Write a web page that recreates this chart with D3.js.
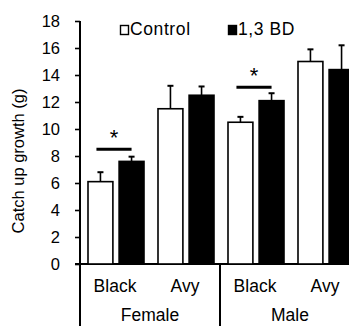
<!DOCTYPE html>
<html><head><meta charset="utf-8">
<script src="https://cdn.jsdelivr.net/npm/d3@7"></script>
<style>body{margin:0;background:#fff}svg{display:block}text{font-family:Arial,"Liberation Sans",sans-serif;fill:#000}</style>
</head><body>
<svg id="c" width="349" height="326"></svg>
<script>
const categories = ["Black", "Avy", "Black", "Avy"];
const groups = ["Female", "Male"];
const seriesNames = ["Control", "1,3 BD"];
const controlValues = [6.1, 11.5, 10.5, 15.0];
const controlErrors = [0.7, 1.7, 0.4, 0.9];
const bdValues = [7.6, 12.5, 12.1, 14.4];
const bdErrors = [0.35, 0.65, 0.55, 1.8];
const yTicks = [0, 2, 4, 6, 8, 10, 12, 14, 16, 18];
const sigCategoryIndex = [0, 2];
const sigLevel = [8.5, 13.1];

const svg = d3.select("#c");
const y = d3.scaleLinear().domain([0, 18]).range([264, 21]);
const x = d3.scaleBand().domain(d3.range(categories.length)).range([80, 360]).paddingInner(0).paddingOuter(0);
const sub = d3.scaleBand().domain([0, 1]).range([8, 64]).paddingInner(0.2);

// y axis
const yAxis = d3.axisLeft(y).tickValues(yTicks).tickSize(5).tickPadding(15).tickFormat(d3.format("d"));
const ga = svg.append("g").attr("transform", "translate(80,0)").call(yAxis);
ga.select(".domain").remove();
ga.selectAll(".tick line").attr("stroke", "#000").attr("stroke-width", 1.6);
ga.selectAll(".tick text").attr("font-size", 16.5).attr("font-family", "Arial, 'Liberation Sans', sans-serif");
svg.append("line").attr("x1", 80).attr("x2", 80).attr("y1", y(18)).attr("y2", 326).attr("stroke", "#000").attr("stroke-width", 2);
svg.append("line").attr("x1", 75).attr("x2", 349).attr("y1", y(0)).attr("y2", y(0)).attr("stroke", "#000").attr("stroke-width", 2);
// group separator
svg.append("line").attr("x1", x(2)).attr("x2", x(2)).attr("y1", y(0)).attr("y2", 326).attr("stroke", "#000").attr("stroke-width", 2);

// y label
svg.append("text").attr("transform", "translate(24,161) rotate(-90)").attr("text-anchor", "middle")
  .attr("font-size", 16.5).text("Catch up growth (g)");

const series = [
  {vals: controlValues, errs: controlErrors, fill: "#fff"},
  {vals: bdValues, errs: bdErrors, fill: "#000"}
];
series.forEach((s, si) => {
  const g = svg.append("g");
  g.selectAll("line.err").data(s.vals).enter().append("line")
    .attr("x1", (d, i) => x(i) + sub(si) + sub.bandwidth() / 2)
    .attr("x2", (d, i) => x(i) + sub(si) + sub.bandwidth() / 2)
    .attr("y1", d => y(d)).attr("y2", (d, i) => y(d + s.errs[i]))
    .attr("stroke", "#000").attr("stroke-width", 1.6);
  g.selectAll("line.cap").data(s.vals).enter().append("line")
    .attr("x1", (d, i) => x(i) + sub(si) + sub.bandwidth() / 2 - 3)
    .attr("x2", (d, i) => x(i) + sub(si) + sub.bandwidth() / 2 + 3)
    .attr("y1", (d, i) => y(d + s.errs[i])).attr("y2", (d, i) => y(d + s.errs[i]))
    .attr("stroke", "#000").attr("stroke-width", 2);
  g.selectAll("rect").data(s.vals).enter().append("rect")
    .attr("x", (d, i) => x(i) + sub(si))
    .attr("width", sub.bandwidth())
    .attr("y", d => y(d)).attr("height", d => y(0) - y(d))
    .attr("fill", s.fill).attr("stroke", "#000").attr("stroke-width", 1.6);
});

// significance
sigCategoryIndex.forEach((ci, k) => {
  const x1 = x(ci) + sub(0) + sub.bandwidth() / 2 - 4;
  const x2 = x(ci) + sub(1) + sub.bandwidth() / 2;
  svg.append("line").attr("x1", x1).attr("x2", x2).attr("y1", y(sigLevel[k])).attr("y2", y(sigLevel[k]))
    .attr("stroke", "#000").attr("stroke-width", 3);
  svg.append("text").attr("x", (x1 + x2) / 2).attr("y", y(sigLevel[k]) - 4).attr("text-anchor", "middle")
    .attr("font-size", 22).text("*");
});

// category labels
svg.selectAll("text.cat").data(categories).enter().append("text")
  .attr("x", (d, i) => x(i) + x.bandwidth() / 2).attr("y", 292).attr("text-anchor", "middle")
  .attr("font-size", 17.5).text(d => d);
svg.selectAll("text.grp").data(groups).enter().append("text")
  .attr("x", (d, i) => (x(i * 2) + x(i * 2 + 1) + x.bandwidth()) / 2).attr("y", 321).attr("text-anchor", "middle")
  .attr("font-size", 17.5).text(d => d);

// legend
const legX = [120, 228];
seriesNames.forEach((n, i) => {
  svg.append("rect").attr("x", legX[i] + 0.5).attr("y", 25.5).attr("width", 8).attr("height", 9)
    .attr("fill", series[i].fill).attr("stroke", "#000").attr("stroke-width", 1.4);
  svg.append("text").attr("x", legX[i] + 10).attr("y", 35).attr("font-size", 17.5)
    .attr("letter-spacing", 0.6).text(n);
});
</script>
</body></html>
